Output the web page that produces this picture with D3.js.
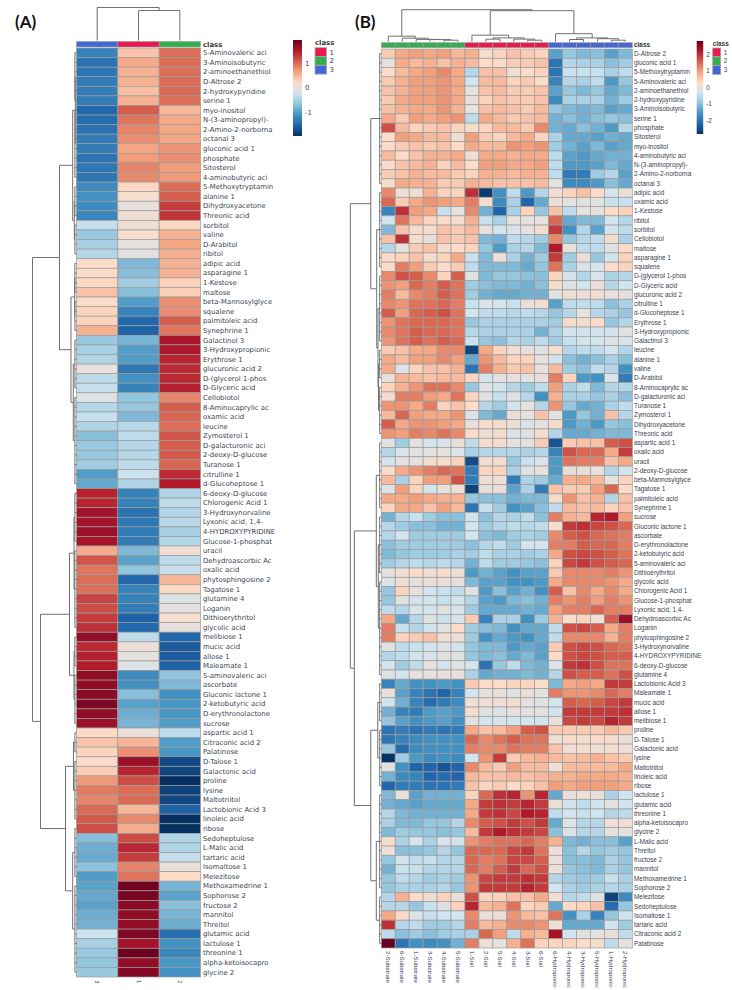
<!DOCTYPE html>
<html>
<head>
<meta charset="utf-8">
<script src="https://cdn.jsdelivr.net/npm/d3@7"></script>
<style>
body { margin: 0; background: #fff; }
svg { display: block; }
</style>
</head>
<body>
<div id="chart"></div>
<script>
const palette = ["#053061", "#2166ac", "#4393c3", "#92c5de", "#d1e5f0", "#fddbc7", "#f4a582", "#d6604d", "#b2182b", "#67001f"];
const classColors = { 1: "#e7194d", 2: "#33ae4f", 3: "#4467d6" };
const classNames = [1, 2, 3];

const rowsA = ["5-Aminovaleric aci","3-Aminoisobutyric","2-aminoethanethiol","D-Altrose 2","2-hydroxypyridine","serine 1","myo-inositol","N-(3-aminopropyl)-","2-Amino-2-norborna","octanal 3","gluconic acid 1","phosphate","Sitosterol","4-aminobutyric aci","5-Methoxytryptamin","alanine 1","Dihydroxyacetone","Threonic acid","sorbitol","valine","D-Arabitol","ribitol","adipic acid","asparagine 1","1-Kestose","maltose","beta-Mannosylglyce","squalene","palmitoleic acid","Synephrine 1","Galactinol 3","3-Hydroxypropionic","Erythrose 1","glucuronic acid 2","D-(glycerol 1-phos","D-Glyceric acid","Cellobiotol","8-Aminocaprylic ac","oxamic acid","leucine","Zymosterol 1","D-galacturonic aci","2-deoxy-D-glucose","Turanose 1","citrulline 1","d-Glucoheptose 1","6-deoxy-D-glucose","Chlorogenic Acid 1","3-Hydroxynorvaline","Lyxonic acid, 1,4-","4-HYDROXYPYRIDINE","Glucose-1-phosphat","uracil","Dehydroascorbic Ac","oxalic acid","phytosphingosine 2","Tagatose 1","glutamine 4","Loganin","Dithioerythritol","glycolic acid","melibiose 1","mucic acid","allose 1","Maleamate 1","5-aminovaleric aci","ascorbate","Gluconic lactone 1","2-ketobutyric acid","D-erythronolactone","sucrose","aspartic acid 1","Citraconic acid 2","Palatinose","D-Talose 1","Galactonic acid","proline","lysine","Maltotriitol","Lactobionic Acid 3","linoleic acid","ribose","Sedoheptulose","L-Malic acid","tartaric acid","Isomaltose 1","Melezitose","Methoxamedrine 1","Sophorose 2","fructose 2","mannitol","Threitol","glutamic acid","lactulose 1","threonine 1","alpha-ketoisocapro","glycine 2"];
const colsA = ["3", "1", "2"];
const classesA = [3, 1, 2];
const valuesA = [
[-1.25,.4,1],[-1.4,.6,1],[-1.35,.55,1],[-1.3,.55,1.02],[-1.3,.45,1.02],[-1.3,.55,1],[-1.5,1.1,.5],[-1.45,.95,.6],[-1.4,.85,.65],[-1.3,.8,.65],
[-1.3,.65,.75],[-1.4,.7,.8],[-1.35,.85,.7],[-1.35,.82,.72],[-1.15,.25,1],[-1.1,.15,1.1],[-1.15,0,1.3],[-1.2,.08,1.35],[-.3,.08,.25],[-.6,.15,.55],
[-.5,-.03,.65],[-.42,-.05,.55],[.2,-.75,.55],[.2,-.7,.55],[.25,-.55,.3],[.42,-.7,.3],[.18,-1,.8],[.28,-1.25,.8],[.28,-1.5,1.1],[.55,-1.55,.95],
[-.6,-.8,1.55],[-.5,-1,1.55],[-.45,-1,1.45],[0,-1.35,1.4],[-.35,-1.1,1.42],[-.3,-1.25,1.48],[-.1,-.65,.85],[-.42,-.62,1.1],[-.3,-.75,1.05],[-.45,-.38,1],
[-.7,-.35,1.15],[-.6,-.42,1.1],[-.62,-.4,1.12],[-.55,-.35,1.05],[-1,-.25,1.4],[-.9,-.45,1.52],[1.45,-1.25,-.45],[1.45,-1.25,-.35],[1.6,-1.4,-.42],[1.6,-1.35,-.38],
[1.65,-1.3,-.52],[1.58,-1.3,-.42],[.6,-.75,.1],[1.15,-.95,-.35],[.95,-.65,-.28],[1,-1.5,.5],[.98,-1.25,.25],[1.25,-1.25,-.1],[1.2,-1.3,-.03],[1.3,-1.55,.15],
[1.38,-1.5,0],[1.7,-.35,-1.5],[1.4,.05,-1.6],[1.48,-.03,-1.6],[1.5,-.1,-1.55],[1.72,-1.15,-.65],[1.72,-1.1,-.75],[1.75,-.7,-1.1],[1.82,-.95,-1.05],[1.7,-.85,-1.05],
[1.65,-.8,-1],[.22,.03,-.35],[.4,.52,-1],[.28,.78,-1.05],[.2,1.65,-1.75],[.33,1.45,-1.78],[.72,1.2,-1.95],[.92,1,-1.8],[.85,1.02,-1.75],[1.02,.5,-1.55],
[1.12,.82,-1.95],[1.2,.58,-1.95],[-.7,1.2,-.45],[-.85,1.42,-.45],[-.88,1.3,-.3],[-.68,.85,.03],[-1,.95,.22],[-.95,1.9,-.8],[-.9,1.85,-.95],[-.95,1.75,-.7],
[-.85,1.72,-.8],[-.82,1.7,-.85],[-.25,1.82,-1.45],[-.5,1.6,-1.1],[-.6,1.92,-1.2],[-.65,1.7,-1.05],[-.6,1.78,-1.1]
];

const rowsB = ["D-Altrose 2","gluconic acid 1","5-Methoxytryptamin","5-Aminovaleric aci","2-aminoethanethiol","2-hydroxypyridine","3-Aminoisobutyric","serine 1","phosphate","Sitosterol","myo-inositol","4-aminobutyric aci","N-(3-aminopropyl)-","2-Amino-2-norborna","octanal 3","adipic acid","oxamic acid","1-Kestose","ribitol","sorbitol","Cellobiotol","maltose","asparagine 1","squalene","D-(glycerol 1-phos","D-Glyceric acid","glucuronic acid 2","citrulline 1","d-Glucoheptose 1","Erythrose 1","3-Hydroxypropionic","Galactinol 3","leucine","alanine 1","valine","D-Arabitol","8-Aminocaprylic ac","D-galacturonic aci","Turanose 1","Zymosterol 1","Dihydroxyacetone","Threonic acid","aspartic acid 1","oxalic acid","uracil","2-deoxy-D-glucose","beta-Mannosylglyce","Tagatose 1","palmitoleic acid","Synephrine 1","sucrose","Gluconic lactone 1","ascorbate","D-erythronolactone","2-ketobutyric acid","5-aminovaleric aci","Dithioerythritol","glycolic acid","Chlorogenic Acid 1","Glucose-1-phosphat","Lyxonic acid, 1,4-","Dehydroascorbic Ac","Loganin","phytosphingosine 2","3-Hydroxynorvaline","4-HYDROXYPYRIDINE","6-deoxy-D-glucose","glutamine 4","Lactobionic Acid 3","Maleamate 1","mucic acid","allose 1","melibiose 1","proline","D-Talose 1","Galactonic acid","lysine","Maltotriitol","linoleic acid","ribose","lactulose 1","glutamic acid","threonine 1","alpha-ketoisocapro","glycine 2","L-Malic acid","Threitol","fructose 2","mannitol","Methoxamedrine 1","Sophorose 2","Melezitose","Sedoheptulose","Isomaltose 1","tartaric acid","Citraconic acid 2","Palatinose"];
const colsB = ["2-Substrate","6-Substrate","1-Substrate","3-Substrate","4-Substrate","5-Substrate","1-Soil","2-Soil","5-Soil","4-Soil","3-Soil","6-Soil","6-Hydroponic","4-Hydroponic","3-Hydroponic","5-Hydroponic","1-Hydroponic","2-Hydroponic"];
const classesB = [2,2,2,2,2,2,1,1,1,1,1,1,3,3,3,3,3,3];
const valuesB = [
[.5,.9,1,.9,1,.7,.8,.2,.4,.6,.5,.4,-1.4,-.9,-1.1,-1,-1.4,-1.1],
[0,.9,.7,.8,.6,.8,.7,.3,.3,.5,.5,.6,-2,-.6,-.7,-.7,-1,-.8],
[.3,.7,.9,1,1.2,.9,-.6,.6,.6,.1,.3,.4,-2,-.4,-.4,-.4,-.7,-.5],
[.5,.8,1,1,1.1,.9,-.3,.7,.7,.4,.5,.3,-1.8,-.6,-.7,-.5,-1.5,-.9],
[.6,.8,1,1,1.1,.9,0,.6,.7,.5,.5,.6,-1.4,-.9,-1.1,-.9,-1.3,-1.1],
[.5,.9,1,1,1.1,.9,.05,.4,.6,.5,.5,.6,-1.7,-.7,-.7,-.7,-1.2,-.8],
[.6,.8,.9,.9,1.1,.8,0,.6,.7,.6,.5,.7,-.9,-1.1,-1.2,-1.1,-1.4,-1.3],
[.9,.5,1,.9,1,1.1,-.5,.9,.7,.5,.6,.7,-1.2,-1,-1.2,-1,-.9,-1],
[1.7,.7,.4,.5,.6,.4,.2,.4,.7,.7,.5,1.2,-1.2,-1.3,-1,-1.2,-1.5,-.6],
[.3,1,.9,.7,.7,.1,1,.5,.4,.7,.9,.4,-.7,-1.3,-1.3,-1.4,-1.2,-1.3],
[.3,.5,.6,.5,.6,.3,.9,.7,.7,1.1,1,1.1,-.8,-1.2,-1.4,-1.1,-1.4,-1.3],
[.7,.3,.6,.8,.8,.9,.1,.9,.9,.8,.9,.9,-.5,-1.4,-1.5,-1.3,-1.2,-1.2],
[.3,.6,.7,.8,.4,.7,.3,1,1,.9,.9,1,-.5,-1.5,-1.5,-1.4,-1.1,-1.3],
[.5,.6,.8,.7,.7,.5,.4,.8,.8,.7,.8,.8,-.5,-1.9,-1.9,-.8,-.6,-1.4],
[.2,.9,.8,.8,.5,.5,.8,.7,.6,.6,.6,.7,-.1,-1.7,-1.7,-1.5,-1,-1.3],
[1.2,.1,.1,.8,.4,.4,2,-2.7,-1.6,-.5,-1.5,-.6,.1,.4,.6,.3,-.3,.05],
[1.5,.5,.9,1.1,1,.9,1.3,.2,-1.7,-.7,-2.2,-1.3,.05,-.05,-.1,-.1,-.4,-.4],
[-1.8,2,1,.9,-.4,-.05,1.2,-1.2,-2.2,-.7,.4,-.9,.6,-.5,-.05,-.05,.3,.4],
[-.3,1.4,.7,.4,.3,.2,.8,-.4,-.7,0,-.05,-.05,1.5,-1.3,-1.1,-1.1,-.3,-.6],
[-1.1,.6,.2,.2,.6,.5,.7,0,-.3,-.2,-.05,.2,1.9,-1.6,-.6,-1.4,-.3,-.5],
[.6,2,.2,.05,.6,.5,.6,-1.1,-1.2,-.5,-.6,-.8,1.2,-.9,-.6,-.5,.2,-.7],
[-.6,-.05,.5,.6,.2,.3,.4,-.9,-1.5,-.7,-.6,-1.1,2.2,.05,-.5,-.5,-.1,.3],
[.3,.4,.6,.2,.4,.9,-.4,-1.1,.1,-.7,-1.2,-.8,1.9,-.8,.05,-.9,-.3,.4],
[.3,1.3,1,.5,.3,.5,-.5,-1.1,-1.1,-1.1,-1.3,-.9,1.4,-.7,-.2,-.3,.3,.4],
[1.2,1.7,1.6,1.2,.4,1.6,-.1,-1.1,-.9,-.9,-1,-1,.4,-.3,-.6,-.2,-.7,-.6],
[1.1,1,1.5,1.3,1.6,1.4,-.8,-1,-1.1,-1.1,-1.2,-1,.2,-.1,-.3,.05,-.6,-.3],
[1.3,.7,1.2,1.3,1.6,1.4,-.8,-1.2,-1.3,-1.3,-1.2,-1.2,-.1,.15,.1,.15,0,-.05],
[1.2,1.1,1.4,1.4,1.5,1.3,-.4,-.2,-.3,-.4,.05,.2,-1.4,-.5,-.5,-.5,-1,-.7],
[1.6,1,1.5,1.6,1.7,1.4,-.3,-.5,-.5,-.6,-.5,-.6,-.9,-.6,-.05,-.6,-.7,-.9],
[1.1,1.4,1.5,1.5,1.5,1.4,-.9,-.7,-.7,-.7,-.7,-.7,-.8,.2,.15,.3,-.9,-.6],
[1.2,1.4,1.6,1.5,1.5,1.4,-.6,-.7,-.7,-.7,-.7,-1.2,-.7,-.3,-.3,-.3,-.3,-.05],
[1.1,1.4,1.6,1.4,1.6,1.5,-.4,-.9,-1,-.6,-.7,-.5,-.8,-.4,-.3,-.3,-.2,-.2],
[.5,.6,.9,.9,1.2,1.2,-2.6,.9,.4,.1,0,-.1,.2,-.6,-.5,-.5,-.3,-.6],
[.9,.7,1,1,1.2,1,-1.3,1.1,.7,.4,.4,0,-.3,-1,-1.2,-1,-.7,-1],
[.9,-.2,.4,.6,.6,.8,-2,1.3,.8,.5,.6,0,.7,-.8,-1,-.5,-.6,-1.6],
[.05,.8,.7,.6,.7,.7,.4,-.3,-.1,0,-.1,0,1.3,.4,-1.5,-1.6,-.2,-1.9],
[.4,.8,1.1,1.4,1.4,1.2,-.9,-.1,-.3,-.6,-.8,-.5,1,-.7,-.5,-1.1,-.6,-.6],
[.2,1.3,1.3,1,.9,1.4,.4,-.1,-.4,-.1,-.6,-1.6,.8,-.7,-.7,-.9,-.7,-1],
[1.1,1.1,.9,1.3,.4,.6,.3,-.6,-.8,-.3,-.05,-.6,1.1,-.9,-1.3,-1.2,-.7,-.5],
[.7,1.5,1,.9,.9,1.1,-.2,-1.1,-1.3,.05,-.05,.6,-.1,-1.5,-.9,-1.2,.6,-.6],
[1.6,.9,1.1,1.1,1,.9,0,.2,.2,.05,-.2,-.05,.2,-1.5,-1.2,-1.5,-.9,-1],
[1.1,1,1.3,1.2,1.4,1.2,.3,.1,.2,-.2,-.1,.2,-.6,-1.3,-1.3,-1.2,-1.1,-1.1],
[-.1,-.8,-.05,-.3,-.2,.05,-.5,.2,.2,-.05,-.1,.5,-2.4,.5,.6,.6,1.6,1.7],
[-.6,-.2,-.1,-.05,-.05,-.2,-.7,-.6,-.6,-.6,-.7,-.6,-1.8,1.7,1.5,1.5,.9,1.9],
[-.3,-.05,-.05,.2,.2,.4,-2.5,.15,.2,-.9,-.4,-.2,-1.5,1.4,1.3,1.3,.6,.9],
[.3,.9,1.1,1.3,1.5,1.4,-1.9,.4,.4,-.7,-.1,-.05,-1.5,.05,.05,0,-.6,-.3],
[.7,-.7,.4,1,1,1.7,-1.9,.1,.1,-1.9,-.7,-.8,-1.3,.8,.9,.7,-.05,.4],
[-.1,1,.4,-.3,.05,.15,-2.6,.05,.05,-1.4,-.7,-1.9,.6,.5,.5,1,1.5,.3],
[.9,.9,1,.9,.8,.8,-.9,-1,-1,-1.2,-1.1,-1.1,.2,1.1,.6,.8,-.6,.6],
[.4,.9,.9,.6,1,.7,-2,-.4,-.8,-1.6,-1.4,-1,-.5,.7,.6,.7,.4,.6],
[-1.2,-.6,-.4,-.8,-1,-1,-.3,-1,-.6,-.7,-.5,-1,1.3,.8,.7,2.1,2.2,1],
[-.6,-.8,-1,-1,-1.2,-1.2,-.3,-.8,-.6,-.5,-.6,-.5,.2,1.9,2,1.8,1.7,1.5],
[-.6,-.3,-.8,-.8,-.8,-.8,-.3,-1,-1.1,-.8,-.7,-.8,1.2,1.6,1.7,1.5,1.4,1.3],
[-1,-.8,-.8,-.8,-.8,-.8,-1,-.6,-.5,-.8,-.3,-.3,1.3,1.3,1.6,1.5,1.5,1.3],
[-1.1,-.9,-.8,-.8,-.8,-.7,-.8,-.5,-.7,-.7,-.8,-.7,.9,1.7,1.8,1.7,1.6,1.4],
[-.8,-.6,-.5,-.6,-.5,-.6,-1.2,-.5,-.8,-.8,-.9,-1,.4,1.8,1.9,1.7,1.6,1.5],
[0,.15,.3,.15,.2,.05,-1.5,-1.2,-1.4,-1.6,-1.4,-1.4,.5,1.2,1.2,1.2,1.3,1.1],
[-.2,.1,-.05,.05,.1,-.05,-1.1,-1.4,-1.4,-1.6,-1.6,-1.5,.9,1.2,1.2,1.2,1.1,.9],
[-.9,.4,-.05,-.3,-.4,-.5,-.1,-1.5,-1,-1.4,-1.2,-1.6,1.6,.6,1.2,.9,1.2,.9],
[-.9,-.1,-.3,-.3,-.4,-.3,-.6,-1.4,-1.5,-1.1,-1,-1.2,1.3,1.1,1.3,1,1.3,1.1],
[-.5,-.6,-.2,-.3,-.1,-.2,-.8,-1.3,-1.3,-1.3,-1.2,-1.3,1,1.3,1.3,1.5,1.3,1.3],
[.9,-1.3,-.6,-.1,-.4,-.2,.5,-1.8,-.7,-.7,-1.6,-.8,.8,.3,.4,.1,1.6,2.4],
[1.3,-.4,-.6,-.3,-.05,.3,-.8,-1,-1.1,-1.6,-1.3,-1.3,-.5,1.7,1.8,1.6,.9,1.3],
[1.3,.4,.5,.6,.1,.1,-.8,-1.6,-1.3,-1.5,-1.6,-1.3,-.5,1.2,1.2,1.2,.8,1.3],
[-.1,-.5,-.4,-.3,-.1,-.3,-.9,-1.1,-1.1,-1.5,-1.3,-1.4,.5,1.7,1.8,1.7,1.5,1.4],
[-.6,-.5,-.3,-.2,-.1,-.1,-.9,-1.1,-1,-1.3,-1.1,-1.4,.3,1.7,1.8,1.7,1.6,1.6],
[-.3,-.8,-.5,-.05,-.3,-.1,-.3,-2,-.9,-.5,-1.1,-1.2,-.2,1.9,2,1.7,1.4,1.4],
[-.1,-.3,0,-.05,.05,.05,-.7,-1.3,-1.2,-1.2,-1.1,-1.2,-.6,1.7,1.6,1.6,1.4,1.7],
[-1.8,-1.3,-1.6,-1.6,-1.5,-1.6,.5,.3,.3,.4,.4,.3,-1.1,.9,1,.9,1.9,1.9],
[.05,-1.4,-1.8,-2,-2.2,-1.8,-.3,0,.05,-.1,.05,-.05,1.3,1.1,1.1,1.2,1.5,1.3],
[-.3,-1.2,-1.8,-2.1,-1.9,-1.7,.15,.1,.1,.15,0,-.1,-.3,1.6,1.5,1.6,1.8,1.9],
[-1.2,-1.8,-1.9,-1.5,-1.4,-1.5,.2,-.1,-.2,0,-.05,-.05,-.3,1.9,1.9,1.9,1.9,2],
[-.9,-1.4,-1.6,-1.5,-1.4,-1.6,-.05,-.3,-.2,-.3,-.3,-.3,0,1.8,1.9,1.8,2.1,1.9],
[-2,-1.9,-2,-1.9,-2,-1.9,.9,.6,.7,1,1.6,1.7,.5,.5,.5,.5,.7,.5],
[-2,-1.8,-1.7,-1.6,-1.6,-1.6,1.5,1.2,1.4,1.6,1.4,1.4,.1,.3,.2,.3,.2,.05],
[-.9,-2.1,-1.7,-1.6,-1.6,-1.6,1.3,1.2,1.2,1.4,1.3,1.3,.6,.1,.2,.1,.2,.1],
[-2.8,-.8,-1.5,-1.7,-1.6,-1.7,-.3,1.1,1.9,.5,.7,.8,.7,.6,.7,.8,.6,.5],
[-.1,-1.6,-2.2,-2.2,-2.4,-2.2,1.2,.7,.5,1,.7,.7,.1,.7,.7,.7,.7,.9],
[-1.2,-1.7,-1.8,-2.2,-2.1,-2.2,.7,.6,.6,.7,.6,.7,.8,.8,.9,.9,.9,.8],
[-2.2,-1.9,-1.9,-2,-2,-1.9,.6,.4,.5,.3,.4,.6,1,.9,1,1,1,.9],
[-1.1,0,-1.4,-1.2,-1.2,-1.2,.4,1.5,2,2.1,1.1,2.1,-1.3,.05,.1,.05,-.7,-.3],
[-1.2,-1.3,-1.4,-1.3,-1.3,-1.3,.9,1.9,2,1.9,2.1,1.9,.05,-.3,-.5,-.3,-.05,-.3],
[-.6,-1.1,-1.2,-1.2,-1.2,-1.2,.9,1.9,2,1.8,2.2,2.1,-.5,-.3,-.4,-.3,-.6,-.5],
[-.7,-1.1,-1.1,-.9,-.9,-.6,1.2,1.6,1.7,1.9,1.7,1.9,-1.3,-.1,-.6,-.6,.1,.1],
[-1.1,-.8,-.9,-.9,-1,-.9,.7,1.9,2.2,2,1.9,1.8,-1,-.2,-.6,-.6,-.05,-.05],
[.2,-.7,-.3,-.7,-.2,-.3,1.1,1.3,1.4,1.4,1.5,1.3,.8,-1.1,-1.2,-1,-1,-1.4],
[.1,-1,-1,-.9,-.6,-.9,1.5,1.5,1.5,1.8,1.9,1.4,.1,-1,-.6,-.9,-.8,-.9],
[-.9,-.3,-.5,-.4,-.6,-.6,1.5,1.3,1.4,1.8,1.8,1.6,.1,-1,-1,-1.1,-.7,-.9],
[-1.2,-.4,-.4,-.6,-.6,-.6,1.5,1.3,1.6,1.9,1.5,1.7,.1,-.9,-1,-1.1,-.7,-.9],
[-.9,-.5,-.6,-.8,-.7,-.8,1.1,1.8,1.9,1.9,2,1.9,-.6,-.8,-.9,-.8,-.4,-.7],
[-.9,-.7,-.7,-.7,-.6,-.9,1.1,1.9,1.9,1.9,2.1,1.9,-.3,-.7,-.8,-.7,-.6,-.7],
[-.6,.8,.3,.15,.4,.05,1.7,.4,.4,.6,.6,.9,.15,-.6,-.5,-.1,-2.6,-1.7],
[-.6,-.6,-.9,-.4,-.1,.4,2.1,.7,.8,1.4,.4,.5,-1.3,.3,.4,.6,-2.1,-.9],
[.9,.3,-.2,-.4,-.3,-.3,1.2,.1,.05,1.1,.7,.6,1.4,-1.6,-.7,-1.8,-.9,-.3],
[2,-.6,-.5,-.8,-.8,-.6,1.3,.7,.8,1.2,1.2,1.1,.1,-1.3,-1.3,-1.3,-.3,-.8],
[-.5,-1,-.8,-1,-.8,-.7,-.7,1.5,1,-.5,.8,.7,2.3,-.3,-.1,-.05,.05,-.5],
[2.8,-2,-1.6,-1.7,-1.6,-1.2,1.3,.1,-.05,.8,1.4,.4,.4,.4,.3,.2,-.5,-.05]
];

// dendrograms: [height, left, right], a plain number is a run of that many tight leaves
const rowTreeA = [44, [17, [3.8, [1.2, 6, 8], [2.2, 4, 4]], [5.5, [1.8, 4, 4], [3.2, 6, 10]]],
    [36, [7, [2.5, 6, 9], [2.5, 4, 6]], [11, [3, 3, 7], [3.8, 6, 10]]]];
const colTreeA = [33, 1, [30, 1, 1]];
const rowTreeB = [31, [10.5, 15, [4.6, 9, [3.3, 8, [2.8, 4, 6]]]],
    [27, [5, 8, [3, 7, 11]], [10.5, [3.5, 5, 7], [5, 11, 6]]]];
const colTreeB = [32, [5.5, 1, [3.5, 1, [2.3, 1, [2.1, 1, [1.5, 1, 1]]]]],
    [31, [6.5, 1, [3.8, [2.5, 1, 1], [2.6, 1, [1.5, 1, 1]]]],
        [8, 1, [3.8, [2.2, 1, 1], [3, 1, [1.5, 1, 1]]]]]];

const ticksA = [1, 0, -1];
const ticksB = [2, 1, 0, -1, -2];

const svg = d3.select("#chart").append("svg")
    .attr("width", 732)
    .attr("height", 990);

function treeSegments(tree, runH) {
    let next = 0;
    const segs = [];
    function walk(node) {
        if (typeof node === "number") {
            const first = next;
            next += node;
            if (node === 1) return { p: first, h: 0 };
            d3.range(first, next).forEach(i => segs.push([[i, 0], [i, runH]]));
            segs.push([[first, runH], [next - 1, runH]]);
            return { p: (first + next - 1) / 2, h: runH };
        }
        const [h, a, b] = node;
        const l = walk(a), r = walk(b);
        segs.push([[l.p, l.h], [l.p, h], [r.p, h], [r.p, r.h]]);
        return { p: (l.p + r.p) / 2, h };
    }
    walk(tree);
    return segs;
}

function drawPanel(p) {
    const g = svg.append("g");
    const color = d3.scaleLinear()
        .domain(d3.range(10).map(i => -p.limit + 2 * p.limit * i / 9))
        .range(palette)
        .clamp(true);

    const x = d3.scaleBand().domain(d3.range(p.cols.length)).range(p.xRange);
    const y = d3.scaleBand().domain(d3.range(p.rows.length)).range(p.yRange);

    // tree positions can fall between two rows, so go through the band step
    const rowCenter = i => p.yRange[0] + (i + 0.5) * y.step();
    const colCenter = i => p.xRange[0] + (i + 0.5) * x.step();

    // cells
    p.values.forEach((row, r) => {
        g.selectAll(null).data(row).join("rect")
            .attr("x", (d, c) => x(c))
            .attr("y", y(r))
            .attr("width", x.bandwidth())
            .attr("height", y.bandwidth())
            .attr("fill", d => color(d))
            .attr("stroke", "#9b9b9b")
            .attr("stroke-width", 0.7);
    });

    // class strip
    g.selectAll(null).data(p.classes).join("rect")
        .attr("x", (d, c) => x(c))
        .attr("y", p.stripY)
        .attr("width", x.bandwidth())
        .attr("height", p.stripH)
        .attr("fill", d => classColors[d])
        .attr("stroke", "#9b9b9b")
        .attr("stroke-width", 0.6);

    g.append("text")
        .attr("x", p.labelX)
        .attr("y", p.stripY + p.stripH - 0.5)
        .attr("font-family", p.font)
        .attr("font-size", p.rowFont)
        .attr("font-weight", "bold")
        .attr("fill", "#333")
        .text("class");

    // row labels
    g.selectAll(null).data(p.rows).join("text")
        .attr("x", p.labelX)
        .attr("y", (d, i) => rowCenter(i))
        .attr("dy", "0.35em")
        .attr("font-family", p.font)
        .attr("font-size", p.rowFont)
        .attr("fill", "#3b4350")
        .text(d => d);

    // column labels
    g.selectAll(null).data(p.cols).join("text")
        .attr("transform", (d, i) => `translate(${colCenter(i)},${p.yRange[1] + 3}) rotate(90)`)
        .attr("dy", "0.35em")
        .attr("font-family", p.font)
        .attr("font-size", p.colFont)
        .attr("fill", "#3d3560")
        .text(d => d);

    // dendrograms
    const rowH = d3.scaleLinear().domain([0, 1]).range([p.xRange[0], p.xRange[0] - 1]);
    const rowLine = d3.line()
        .x(d => rowH(d[1]))
        .y(d => rowCenter(d[0]));
    g.selectAll(null).data(treeSegments(p.rowTree, 1.6)).join("path")
        .attr("d", rowLine)
        .attr("fill", "none")
        .attr("stroke", "#707070")
        .attr("stroke-width", 1);

    const colH = d3.scaleLinear().domain([0, 1]).range([p.stripY - 1, p.stripY - 2]);
    const colLine = d3.line()
        .x(d => colCenter(d[0]))
        .y(d => colH(d[1]));
    g.selectAll(null).data(treeSegments(p.colTree, 1.6)).join("path")
        .attr("d", colLine)
        .attr("fill", "none")
        .attr("stroke", "#707070")
        .attr("stroke-width", 1);

    // colour bar
    const gradId = "grad" + p.name;
    const grad = svg.append("defs").append("linearGradient")
        .attr("id", gradId)
        .attr("x1", 0).attr("x2", 0).attr("y1", 1).attr("y2", 0);
    palette.forEach((c, i) => {
        grad.append("stop").attr("offset", i / 9).attr("stop-color", c);
    });
    const barScale = d3.scaleLinear().domain([-p.limit, p.limit]).range([p.bar.y1, p.bar.y0]);
    g.append("rect")
        .attr("x", p.bar.x)
        .attr("y", p.bar.y0)
        .attr("width", p.bar.w)
        .attr("height", p.bar.y1 - p.bar.y0)
        .attr("fill", `url(#${gradId})`);
    g.selectAll(null).data(p.ticks).join("text")
        .attr("x", p.bar.x + p.bar.w + 3)
        .attr("y", d => barScale(d))
        .attr("dy", "0.35em")
        .attr("font-family", p.font)
        .attr("font-size", p.rowFont)
        .attr("fill", "#3b4350")
        .text(d => d === 0 ? "0" : d < 0 ? "-" + Math.abs(d) : d);

    // class legend
    g.append("text")
        .attr("x", p.legend.x)
        .attr("y", p.legend.y - 2.5)
        .attr("font-family", p.font)
        .attr("font-size", p.rowFont)
        .attr("font-weight", "bold")
        .attr("fill", "#333")
        .text("class");
    g.selectAll(null).data(classNames).join("rect")
        .attr("x", p.legend.x)
        .attr("y", (d, i) => p.legend.y + i * 8.8)
        .attr("width", p.legend.w)
        .attr("height", 8.8)
        .attr("fill", d => classColors[d])
        .attr("stroke", "#a8a8a8")
        .attr("stroke-width", 0.8);
    g.selectAll(null).data(classNames).join("text")
        .attr("x", p.legend.x + p.legend.w + 3)
        .attr("y", (d, i) => p.legend.y + (i + 0.5) * 8.8)
        .attr("dy", "0.35em")
        .attr("font-family", p.font)
        .attr("font-size", p.rowFont)
        .attr("fill", "#3b4350")
        .text(d => d);

    // panel tag
    svg.append("text")
        .attr("x", p.tagX)
        .attr("y", 28)
        .attr("font-family", "Lato, 'Open Sans', sans-serif")
        .attr("font-size", 17)
        .attr("font-weight", "bold")
        .attr("fill", "#111")
        .text(p.tag);
}

drawPanel({
    name: "A", tag: "(A)", tagX: 15,
    rows: rowsA, cols: colsA, classes: classesA, values: valuesA,
    rowTree: rowTreeA, colTree: colTreeA,
    limit: 1.95, ticks: ticksA,
    xRange: [76.5, 200.5], yRange: [48, 977],
    stripY: 41.5, stripH: 5.5, labelX: 203,
    font: "'DejaVu Sans', sans-serif", rowFont: 6.9, colFont: 5.5,
    bar: { x: 293, w: 9, y0: 40, y1: 136 },
    legend: { x: 315, y: 47.7, w: 11.5 }
});

drawPanel({
    name: "B", tag: "(B)", tagX: 355,
    rows: rowsB, cols: colsB, classes: classesB, values: valuesB,
    rowTree: rowTreeB, colTree: colTreeB,
    limit: 2.83, ticks: ticksB,
    xRange: [381.3, 632.3], yRange: [49, 948],
    stripY: 42.7, stripH: 5, labelX: 634,
    font: "'Liberation Sans', Arial, sans-serif", rowFont: 6.4, colFont: 6.2,
    bar: { x: 696.7, w: 6.5, y0: 41, y1: 134 },
    legend: { x: 712.7, y: 48, w: 8 }
});
</script>
</body>
</html>
